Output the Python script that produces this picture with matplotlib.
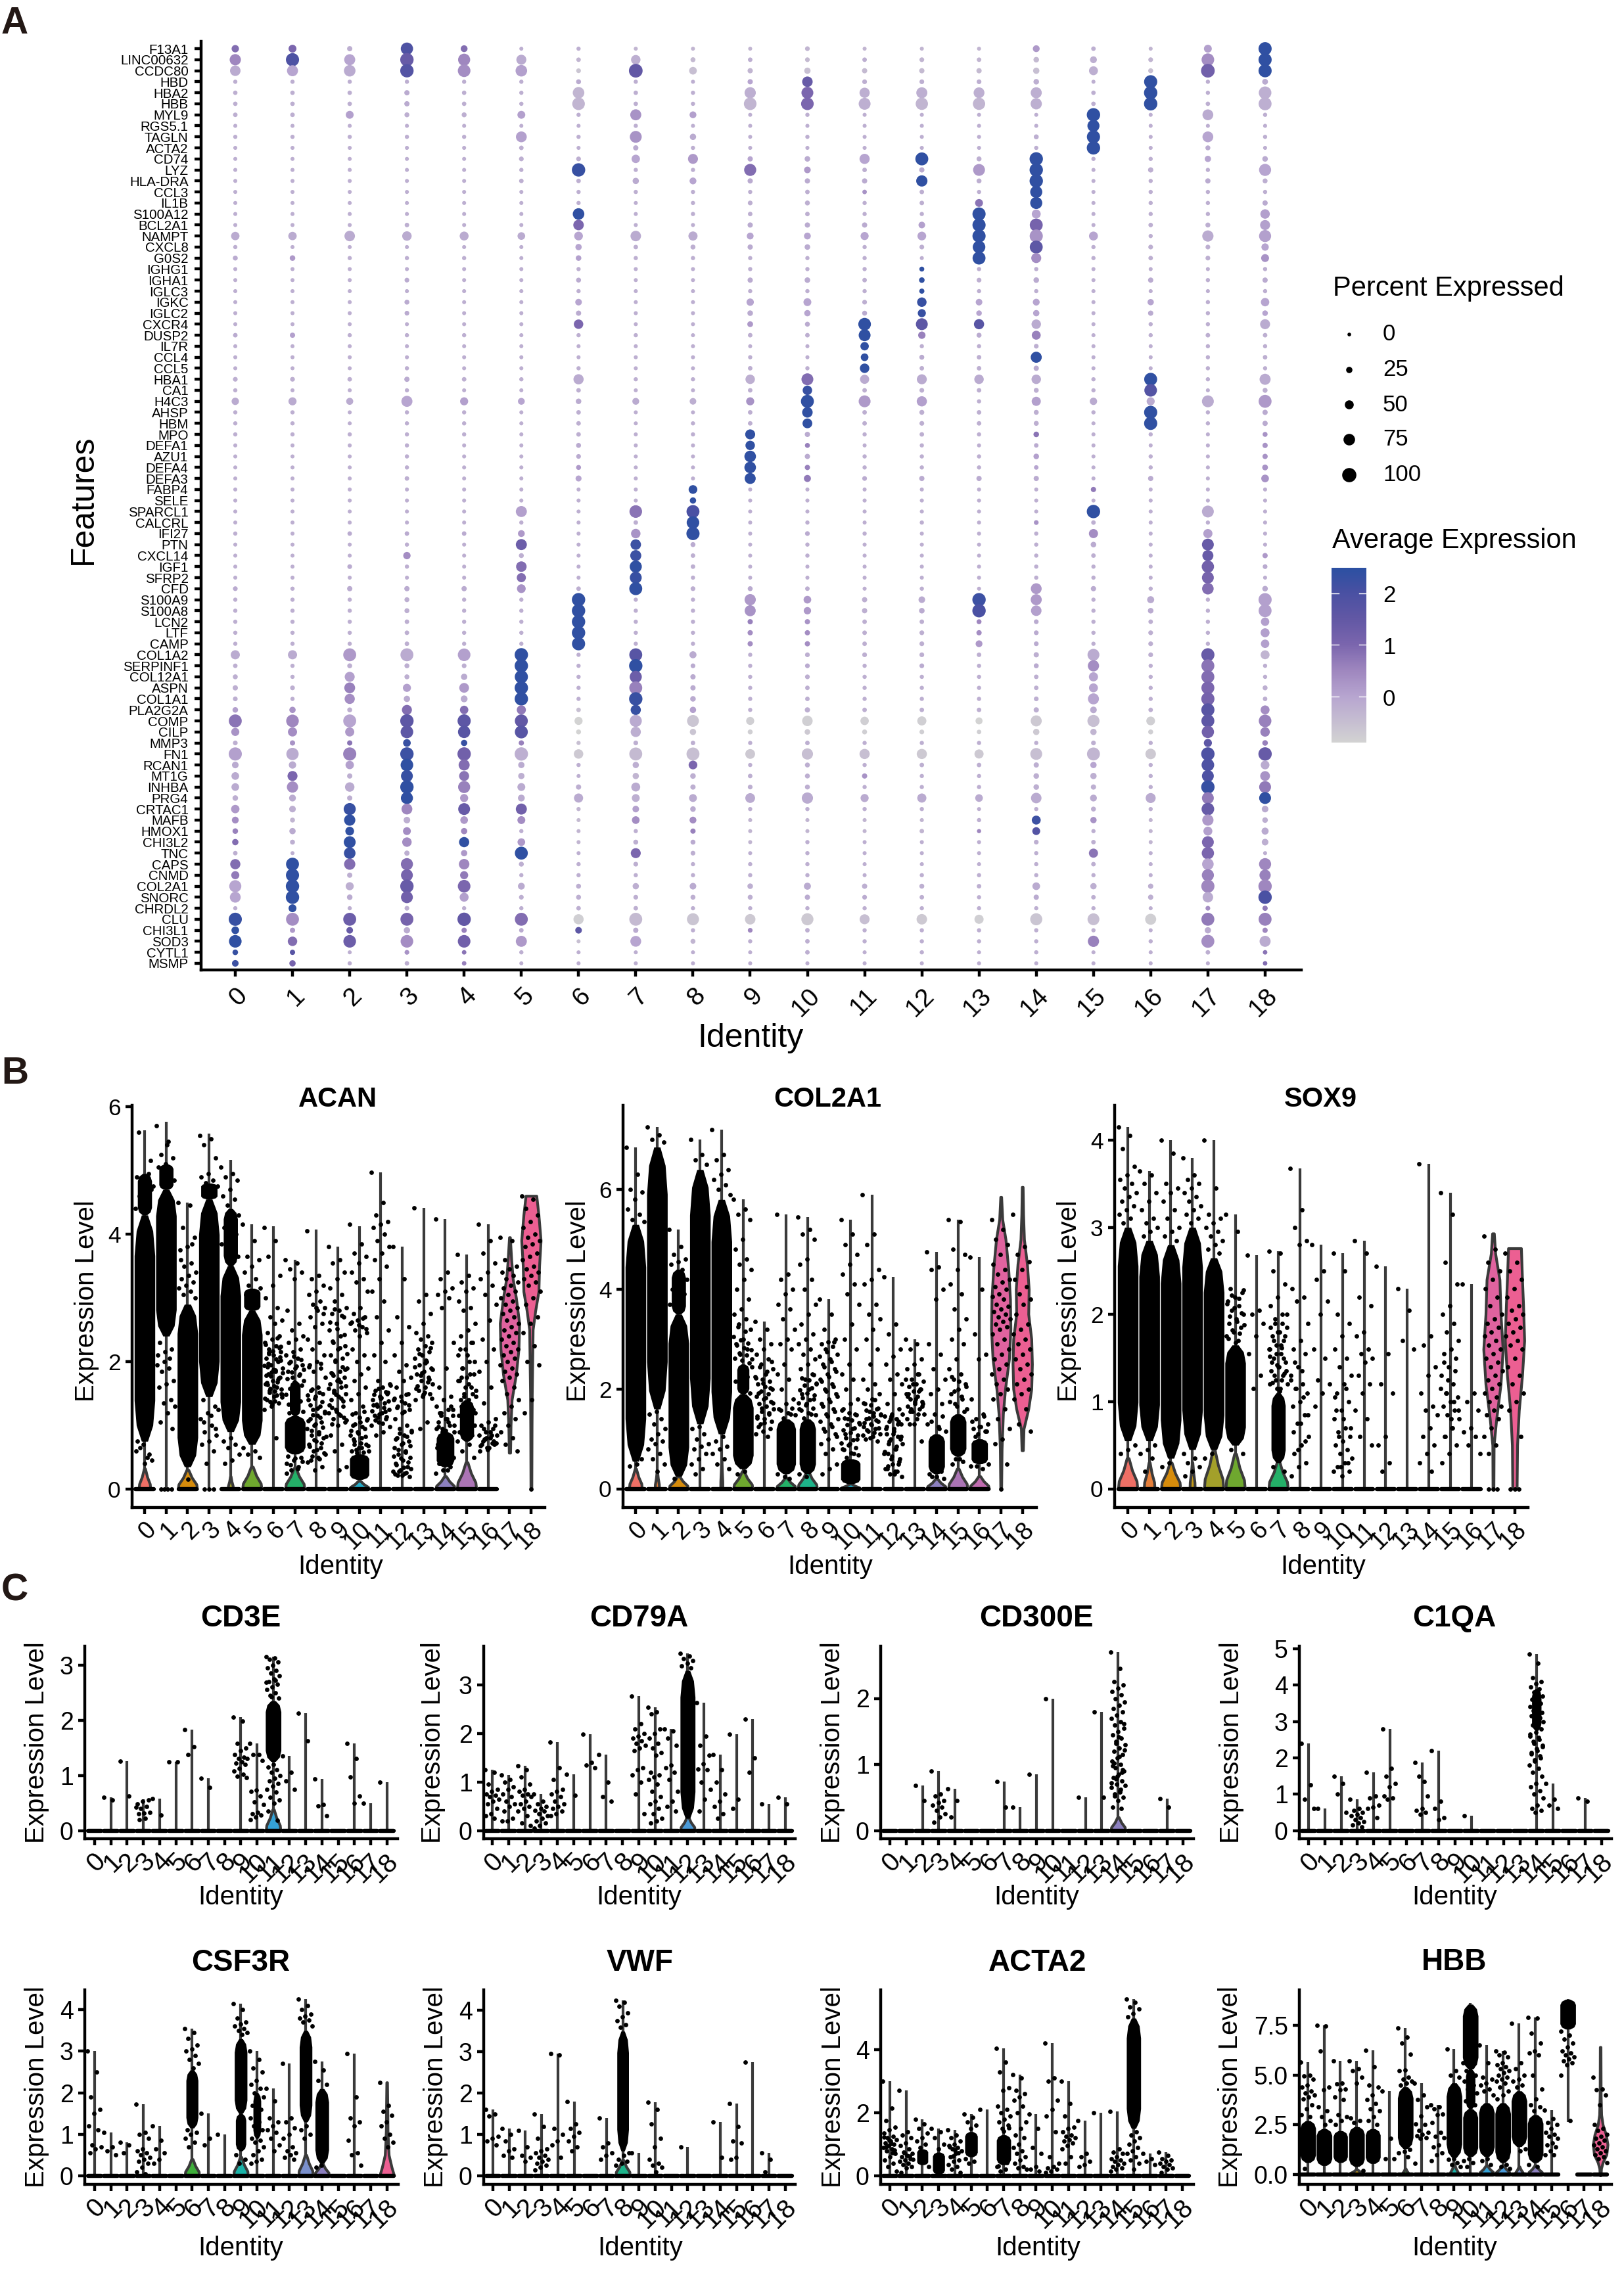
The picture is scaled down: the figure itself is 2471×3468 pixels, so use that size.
import numpy as np
import matplotlib
matplotlib.use('Agg')
import matplotlib.pyplot as plt
from matplotlib.colors import LinearSegmentedColormap
from matplotlib.transforms import ScaledTranslation

plt.rcParams['font.family'] = ['Liberation Sans', 'DejaVu Sans']

W, H = 2471, 3468
clusters = [str(i) for i in range(19)]

# panel A
genes = ['F13A1','LINC00632','CCDC80','HBD','HBA2','HBB','MYL9','RGS5.1','TAGLN','ACTA2','CD74','LYZ','HLA-DRA','CCL3','IL1B',
         'S100A12','BCL2A1','NAMPT','CXCL8','G0S2','IGHG1','IGHA1','IGLC3','IGKC','IGLC2','CXCR4','DUSP2','IL7R','CCL4','CCL5',
         'HBA1','CA1','H4C3','AHSP','HBM','MPO','DEFA1','AZU1','DEFA4','DEFA3','FABP4','SELE','SPARCL1','CALCRL','IFI27','PTN',
         'CXCL14','IGF1','SFRP2','CFD','S100A9','S100A8','LCN2','LTF','CAMP','COL1A2','SERPINF1','COL12A1','ASPN','COL1A1',
         'PLA2G2A','COMP','CILP','MMP3','FN1','RCAN1','MT1G','INHBA','PRG4','CRTAC1','MAFB','HMOX1','CHI3L2','TNC','CAPS','CNMD',
         'COL2A1','SNORC','CHRDL2','CLU','CHI3L1','SOD3','CYTL1','MSMP']

# percent expressed, one row per gene
pct_rows = [
[35,40,15,82,30,3,5,3,3,3,10,3,3,3,30,8,3,40,90],
[72,90,70,92,80,60,8,55,12,8,10,8,10,8,18,30,10,85,90],
[65,70,75,92,85,75,10,95,38,15,25,15,15,15,25,50,12,95,90],
[5,5,5,5,5,5,12,5,3,15,65,10,10,10,18,3,90,5,20],
[7,7,7,15,7,5,75,7,5,72,78,62,70,68,70,7,92,5,85],
[7,7,7,15,7,5,85,7,5,85,85,78,82,82,72,7,92,7,88],
[8,8,40,12,12,40,5,70,30,3,5,3,3,3,3,92,3,68,5],
[3,3,3,3,3,3,3,5,3,3,3,3,3,3,3,80,3,3,3],
[5,5,5,5,5,68,5,78,25,3,5,3,3,3,12,90,3,68,5],
[3,3,3,3,3,8,3,15,5,3,3,3,3,3,5,92,3,12,3],
[3,3,3,3,3,10,10,45,60,15,18,62,88,12,92,5,5,25,18],
[3,3,3,3,3,5,92,5,5,80,28,8,15,78,92,3,15,5,80],
[3,3,3,3,3,8,8,25,30,15,15,15,72,12,92,3,5,15,12],
[3,3,3,3,3,3,5,5,5,5,8,8,8,5,80,3,5,5,5],
[3,3,3,3,3,3,5,3,5,10,12,5,8,40,80,3,5,5,15],
[3,3,3,3,3,3,75,3,5,8,8,5,5,90,50,3,5,5,55],
[3,3,3,8,3,3,65,3,3,15,15,15,28,90,88,3,8,12,60],
[45,45,65,55,50,38,48,65,52,30,30,42,48,90,90,50,5,72,80],
[5,3,3,3,3,3,25,8,12,15,18,5,10,85,88,5,10,10,35],
[12,18,5,5,5,3,18,5,5,5,5,5,3,88,60,5,8,10,40],
[3,3,3,3,3,3,5,3,3,5,5,5,12,5,5,3,3,3,5],
[3,3,3,10,3,3,12,3,3,15,18,8,18,10,18,3,15,5,15],
[3,3,3,3,3,3,5,3,3,5,5,5,14,5,5,3,3,3,5],
[3,3,3,12,3,3,28,3,3,35,40,10,55,28,30,3,25,5,45],
[3,3,3,10,3,3,15,3,3,18,25,12,42,18,25,3,15,5,18],
[3,3,3,3,3,3,55,3,3,20,12,85,78,62,55,3,5,5,60],
[8,15,5,5,5,3,5,5,3,8,8,78,35,12,50,3,5,8,8],
[3,3,3,3,3,3,3,3,3,3,3,45,5,5,10,3,3,5,5],
[3,3,3,3,3,3,3,3,3,5,3,38,12,8,70,3,3,5,8],
[3,3,3,5,3,3,5,3,3,8,5,55,8,8,15,3,3,5,5],
[10,10,8,15,8,5,62,5,5,55,78,52,60,55,55,5,88,5,70],
[5,3,3,5,3,3,8,3,3,8,55,8,10,8,12,5,85,3,12],
[35,42,32,70,42,30,18,30,28,42,88,78,62,5,52,35,42,78,88],
[5,5,3,5,5,3,8,3,3,8,65,8,12,8,12,5,90,5,15],
[5,5,3,5,5,3,8,3,5,8,58,8,10,8,12,3,90,5,15],
[5,5,5,5,5,3,8,3,5,60,15,5,8,5,18,3,5,3,12],
[3,3,3,5,3,3,12,3,3,55,12,3,5,3,8,3,3,3,15],
[3,3,3,5,3,3,10,3,3,75,15,5,5,5,18,3,5,3,15],
[3,3,3,5,3,3,12,3,3,75,15,5,5,5,8,3,5,3,20],
[3,3,3,8,3,3,22,3,3,70,32,10,15,15,15,3,15,3,38],
[3,3,3,3,3,3,3,3,48,3,3,3,3,3,3,15,3,3,3],
[3,3,3,3,3,3,3,3,25,3,3,3,3,3,3,3,3,3,3],
[3,3,3,3,3,70,3,85,88,3,3,3,3,3,3,92,3,78,3],
[3,3,3,3,3,5,3,8,85,3,5,3,5,3,10,8,3,5,3],
[5,3,8,8,8,30,3,55,90,3,10,5,3,3,5,52,3,52,3],
[3,3,3,5,3,70,3,65,12,3,5,3,3,3,5,18,3,78,3],
[3,3,3,35,3,12,3,70,8,3,5,3,3,3,5,8,3,70,15],
[3,3,10,5,3,65,3,80,8,3,3,3,3,3,5,5,3,82,10],
[3,3,3,3,3,52,3,78,5,3,3,3,3,3,5,5,3,78,3],
[10,5,15,15,15,48,8,88,10,12,8,3,5,3,68,15,5,75,18],
[5,5,5,12,5,5,92,5,5,72,38,15,28,92,70,5,32,5,90],
[5,5,5,12,5,5,92,5,5,70,35,15,18,92,65,5,18,5,88],
[5,5,5,8,5,5,92,5,5,15,15,8,8,12,10,5,8,5,45],
[5,5,5,8,5,5,92,5,5,15,15,8,10,15,10,5,10,5,50],
[5,5,5,8,5,5,90,5,5,15,15,8,10,30,10,5,10,5,45],
[52,52,88,88,85,92,5,88,32,5,10,10,10,8,15,78,10,90,50],
[8,5,12,12,10,92,5,92,10,5,10,5,10,5,12,72,5,88,5],
[12,5,60,12,25,90,5,80,15,5,10,5,5,5,8,52,5,88,5],
[15,10,68,42,58,92,5,88,15,5,8,5,5,5,8,50,5,88,12],
[10,5,62,25,30,92,5,92,18,5,8,5,5,5,10,70,5,90,8],
[18,25,12,60,45,52,8,62,25,5,15,8,8,8,15,28,8,90,50],
[88,85,88,92,90,88,42,80,78,42,65,45,52,32,70,80,48,88,85],
[42,52,52,85,82,88,12,62,25,12,18,12,10,8,25,25,12,82,55],
[10,15,15,38,25,15,5,10,8,5,8,5,5,5,5,10,5,42,18],
[90,82,90,92,92,92,55,88,88,58,72,62,62,52,78,88,65,92,92],
[28,35,45,85,70,25,5,25,48,5,12,5,8,8,15,25,5,85,48],
[38,60,15,78,60,25,3,25,18,8,12,15,5,5,18,25,5,78,58],
[38,72,55,92,80,40,15,50,15,10,12,5,5,5,18,15,5,92,78],
[18,30,15,80,42,30,52,40,40,58,72,42,52,38,65,30,60,78,78],
[45,28,80,68,78,70,5,28,18,5,5,5,5,3,5,12,5,85,28],
[30,12,72,28,38,40,3,38,30,3,3,3,3,5,50,25,3,72,18],
[18,25,48,40,25,5,3,5,15,3,3,3,8,5,40,5,3,50,32],
[25,12,78,55,62,38,3,12,12,3,5,3,3,3,10,8,3,78,28],
[8,3,75,15,25,88,3,60,10,3,5,3,3,3,5,52,3,82,3],
[62,88,72,80,65,12,5,10,5,5,5,3,3,3,5,8,3,75,80],
[42,90,15,78,42,5,5,5,5,5,5,3,5,5,5,5,3,80,72],
[80,92,42,92,85,30,12,25,28,18,32,15,12,8,38,25,15,90,92],
[68,92,18,78,50,10,12,10,12,12,15,10,8,5,15,8,15,65,92],
[5,40,5,10,5,5,8,8,5,5,5,5,5,5,5,5,3,10,15],
[90,88,88,88,92,88,62,88,80,65,80,60,65,52,80,78,70,88,88],
[38,15,28,25,15,8,28,15,5,10,8,5,5,5,5,5,3,25,15],
[85,55,85,85,85,70,3,68,12,5,8,5,5,5,5,72,5,88,70],
[18,15,3,10,8,5,3,3,3,3,8,3,5,3,5,3,3,8,8],
[28,25,5,8,8,3,3,3,3,3,3,3,3,3,3,3,3,3,8],
]

# average expression in tenths, same order
avg_rows = [
[9,10,-2,19,9,-2,-2,-3,-3,-3,-3,-3,-3,-3,2,-2,-3,1,24],
[5,19,0,14,5,-1,-3,-2,-4,-2,-4,-2,-3,-3,-4,-2,-3,4,24],
[-1,0,-1,18,4,1,-6,15,-5,-3,-5,-4,-4,-4,-5,-2,-5,12,24],
[-2,-2,-2,-2,-2,-2,-1,-2,-2,0,14,-2,-2,-2,-2,-2,24,-2,-1],
[-2,-2,-2,-1,-2,-2,-3,-2,-2,-2,10,-2,-2,-2,-2,-2,24,-2,-2],
[-2,-2,-2,-1,-2,-2,-3,-2,-2,-3,10,-2,-3,-3,-2,-2,24,-2,-2],
[-2,-2,1,-2,-2,1,-2,3,1,-2,-2,-2,-2,-2,-2,24,-2,-1,-2],
[-2,-2,-2,-2,-2,-2,-2,-2,-2,-2,-2,-2,-2,-2,-2,24,-2,-2,-2],
[-2,-2,-2,-2,-2,1,-2,3,-1,-2,-2,-2,-2,-2,-2,24,-2,0,-2],
[-2,-2,-2,-2,-2,-2,-2,-1,-2,-2,-2,-2,-2,-2,-2,24,-2,-1,-2],
[-2,-2,-2,-2,-2,-2,-2,0,2,0,-1,0,24,-2,24,-2,-2,0,-1],
[-2,-2,-2,-2,-2,-2,23,-2,-2,9,2,-2,-1,2,24,-2,-2,-2,0],
[-2,-2,-2,-2,-2,-2,-2,-1,0,-1,-1,-1,24,-2,24,-2,-2,-1,-2],
[-2,-2,-2,-2,-2,-2,-2,-2,-2,-2,-2,3,-2,-2,24,-2,-2,-2,-2],
[-2,-2,-2,-2,-2,-2,-2,-2,-2,-2,-2,-2,-2,8,24,-2,-2,-2,-1],
[-2,-2,-2,-2,-2,-2,24,-2,-2,-2,-2,-2,-2,24,0,-2,-2,-2,1],
[-2,-2,-2,-2,-2,-2,10,-2,-2,-1,-1,-1,1,24,11,-2,-2,-2,1],
[-1,-1,-1,-1,-1,-1,0,-1,-1,0,0,0,0,24,3,0,-2,-1,1],
[-2,-2,-2,-2,-2,-2,0,-2,-2,-1,-1,-2,-2,24,16,-2,-2,-2,0],
[-1,2,-2,-2,-2,-2,1,-2,-2,-2,-2,-2,-2,24,4,-2,-2,-2,3],
[-2,-2,-2,-2,-2,-2,-2,-2,-2,-2,-2,-2,24,-2,-2,-2,-2,-2,-2],
[-2,-2,-2,-1,-2,-2,-1,-2,-2,-1,-1,-2,24,-2,-1,-2,-1,-2,-1],
[-2,-2,-2,-2,-2,-2,-2,-2,-2,-2,-2,-2,24,-2,-2,-2,-2,-2,-2],
[-2,-2,-2,-1,-2,-2,0,-2,-2,0,0,-2,23,0,0,-2,0,-2,0],
[-2,-2,-2,-1,-2,-2,-1,-2,-2,-1,0,-1,23,0,0,-2,-1,-2,0],
[-2,-2,-2,-2,-2,-2,10,-2,-2,2,-1,24,16,17,-1,-2,-2,-2,-1],
[-1,1,-2,-2,-2,-2,-2,-2,-2,-2,-2,24,6,-1,6,-2,-2,-2,-2],
[-2,-2,-2,-2,-2,-2,-2,-2,-2,-2,-2,24,-2,-2,-2,-2,-2,-2,-2],
[-2,-2,-2,-2,-2,-2,-2,-2,-2,-2,-2,24,-1,-2,24,-2,-2,-2,-2],
[-2,-2,-2,-2,-2,-2,-2,-2,-2,-2,-2,24,-2,-2,-1,-2,-2,-2,-2],
[-2,-2,-2,-1,-2,-2,-1,-2,-2,-2,9,-1,-1,-1,-1,-2,24,-2,-1],
[-2,-2,-2,-2,-2,-2,-2,-2,-2,-2,23,-2,-2,-2,-2,-2,18,-2,-2],
[-1,-1,-1,0,1,0,-1,-1,-2,3,24,2,1,-2,1,-1,-1,-1,2],
[-2,-2,-2,-2,-2,-2,-2,-2,-2,-2,24,-2,-2,-2,-2,-2,24,-2,-1],
[-2,-2,-2,-2,-2,-2,-2,-2,-2,-2,24,-2,-2,-2,-2,-2,24,-2,-1],
[-2,-2,-2,-2,-2,-2,-2,-2,-2,24,-1,-2,-2,-2,8,-2,-2,-2,3],
[-2,-2,-2,-2,-2,-2,-1,-2,-2,24,6,-2,-2,-2,-1,-2,-2,-2,3],
[-2,-2,-2,-2,-2,-2,-1,-2,-2,24,-1,-2,-2,-2,1,-2,-2,-2,3],
[-2,-2,-2,-2,-2,-2,2,-2,-2,24,6,-2,-2,-2,0,-2,-2,-2,3],
[-2,-2,-2,-2,-2,-2,0,-2,-2,24,7,-1,-1,-1,-1,-2,-1,-2,3],
[-2,-2,-2,-2,-2,-2,-2,-2,24,-2,-2,-2,-2,-2,-2,7,-2,-2,-2],
[-2,-2,-2,-2,-2,-2,-2,-2,24,-2,-2,-2,-2,-2,-2,-2,-2,-2,-2],
[-2,-2,-2,-2,-2,1,-2,8,20,-2,-2,-2,-2,-2,-2,24,-2,-1,-2],
[-2,-2,-2,-2,-2,-2,-2,-2,24,-2,-2,-2,-2,-2,3,-2,-2,-2,-2],
[-2,-2,-1,-1,-1,2,-2,3,24,-2,-1,-2,-2,-2,-2,4,-2,1,-2],
[-2,-2,-2,-2,-2,13,-2,22,-1,-2,-2,-2,-2,-2,-2,-1,-2,14,-2],
[-2,-2,-2,4,-2,-2,-2,22,-2,-2,-2,-2,-2,-2,-2,-2,-2,14,2],
[-2,-2,-1,-2,-2,9,-2,24,-2,-2,-2,-2,-2,-2,-2,-2,-2,12,-1],
[-2,-2,-2,-2,-2,9,-2,23,-2,-2,-2,-2,-2,-2,-2,-2,-2,11,-2],
[-1,-2,-1,-1,-1,3,-2,24,-2,-1,-2,-2,-2,-2,2,-1,-2,9,-1],
[-2,-2,-2,-2,-2,-2,24,-2,-2,2,2,-2,-1,22,2,-2,-1,-2,1],
[-2,-2,-2,-2,-2,-2,24,-2,-2,3,2,-2,-1,20,1,-2,-1,-2,1],
[-2,-2,-2,-2,-2,-2,24,-2,-2,6,3,-2,-2,5,-1,-2,-2,-2,1],
[-2,-2,-2,-2,-2,-2,24,-2,-2,4,4,-2,-2,4,-1,-2,-2,-2,1],
[-2,-2,-2,-2,-2,-2,24,-2,-2,4,4,-2,-2,2,-1,-2,-2,-2,1],
[-1,-1,2,-1,1,24,-2,17,-1,-2,-2,-2,-2,-2,-2,-1,-2,14,-3],
[-2,-2,-2,-2,-2,24,-2,24,-1,-2,-1,-2,-1,-2,-1,4,-2,8,-2],
[-2,-2,1,-2,-1,24,-2,13,-1,-2,-2,-2,-2,-2,-2,0,-2,9,-2],
[-2,-2,6,1,2,24,-2,6,-1,-2,-2,-2,-2,-2,-2,0,-2,10,-2],
[-2,-2,4,-1,-1,24,-2,23,-1,-2,-2,-2,-2,-2,-2,0,-2,11,-2],
[1,3,-2,9,9,7,-5,23,1,-2,-2,-2,-2,-2,-2,-1,-2,17,4],
[8,5,0,16,16,15,-9,-1,-6,-8,-8,-8,-8,-9,-7,-5,-8,16,6],
[3,4,2,16,17,17,-9,-2,-6,-8,-7,-8,-8,-8,-7,-3,-8,12,6],
[-2,3,8,23,23,6,-5,-2,-2,-2,-2,-2,-2,-2,-2,-2,-2,16,6],
[1,-1,6,22,12,-2,-7,-4,-5,-7,-5,-5,-7,-7,-5,-3,-7,19,14],
[-1,-1,1,24,9,-1,-2,-2,10,-2,-2,-2,-2,-2,-2,0,-2,19,-1],
[-1,10,-2,23,8,-2,-2,-3,-2,-2,-2,3,-2,-2,-2,-2,-2,19,3],
[-1,4,-1,24,6,-1,-2,-1,-2,-2,-2,-2,-2,-2,-2,-2,-2,23,7],
[-2,-1,-2,24,2,-1,-1,-2,-1,-1,-1,-1,-1,-1,-1,-1,-1,7,24],
[2,-2,23,5,14,12,-3,1,-1,-2,-2,-2,-2,-2,-2,-2,-2,14,-1],
[4,-3,24,-2,2,4,-4,4,4,-3,-3,-3,-3,-2,22,3,-3,2,-2],
[6,-1,24,4,5,-2,-3,-2,6,-3,-3,-3,-3,5,18,-2,-3,1,-1],
[9,-2,24,4,24,2,-3,-2,-1,-3,-2,-2,-2,-2,-2,-2,-3,10,-2],
[-2,-2,23,-2,2,24,-2,10,-2,-2,-2,-2,-2,-2,-2,8,-2,10,-2],
[9,24,9,9,5,-2,-2,-2,-2,-2,-2,-2,-2,-2,-2,-2,-2,0,5],
[7,24,-2,11,7,-2,-2,-2,-2,-2,-2,-2,-2,-2,-2,-2,-2,6,6],
[0,24,-2,14,10,-1,-2,-2,-1,-2,-1,-2,-2,-2,-1,-2,-2,5,5],
[0,24,-1,12,1,-2,-2,-2,-2,-2,-1,-1,-2,-2,-1,-2,-2,-1,20],
[-2,24,-2,-2,-2,-2,-2,-2,-2,-2,-2,-2,-2,-2,-2,-2,-2,4,7],
[23,4,13,11,15,9,-8,-4,-6,-7,-7,-5,-7,-8,-6,-5,-8,7,6],
[24,2,14,-1,6,-1,16,-1,-2,5,-2,-2,-2,-2,-2,-2,-2,-1,5],
[24,9,13,4,12,2,-5,0,-3,-2,-2,-2,-2,-2,-2,6,-2,4,-1],
[23,17,-2,3,8,-2,-2,-2,-2,-2,-2,-2,-2,-2,-2,-2,-2,-2,8],
[22,11,-2,-2,6,-2,-2,-2,-2,-2,-2,-2,-2,-2,-2,-2,-2,-2,9],
]

pct_levels = [0, 25, 50, 75, 100]
avg_ticks = [0, 1, 2]

cmap_vals = [-0.89, 0.0, 0.5, 1.0, 1.5, 2.0, 2.49]
cmap_cols = ['#D3D3D3', '#B7A5D0', '#9F87BF', '#7B66AE', '#6258A5', '#4A51A3', '#2B50A2']

violin_cols = ['#EE6F65','#E57F3A','#D68C0C','#C39A1A','#A3A02A','#6FA82F','#3FAE3B','#24B068','#1EB38A','#1BB3A8',
               '#25ACC8','#35A2D6','#4A9AD8','#7A90CC','#8C80BF','#AB74B5','#C06CB0','#E0639F','#EC5F92']

# ACAN
acan_top = [5.63,5.76,4.5,5.58,5.16,4.15,4.12,3.6,4.07,3.8,4.12,4.97,3.8,4.41,4.24,3.68,4.15,0,0]
acan_foot = [.32,0,.3,0,.2,.35,0,.33,0,0,.13,0,0,0,.2,.42,0,0,0]
acan_footw = [.27,.45,.45,.45,.12,.45,.45,.45,.45,.45,.45,.45,.45,.45,.45,.45,.45,.45,.45]
acan_nozero = [1,3,17,18]
acan_bands = [[(.75,4.3,.45),(4.3,4.95,.3)],[(2.4,4.7,.47),(4.7,5.1,.3)],[(.35,2.9,.45)],[(1.45,4.55,.45),(4.55,4.8,.35)],
              [(.9,3.5,.47),(3.5,4.4,.3)],[(.7,2.8,.47),(2.8,3.15,.35)],[],[(.55,1.15,.45),(1.15,1.7,.22)],[],[],
              [(.15,.55,.42)],[],[],[],[(.35,.9,.38)],[(.75,1.4,.3)],[],[],[]]
acan_shapes = {17: ([.57,1.0,1.4,1.8,2.2,2.6,3.0,3.3,3.6,3.95], [.03,.05,.1,.3,.42,.45,.3,.15,.08,.02]),
               18: ([0,1.0,1.5,2.0,2.5,2.8,3.1,3.5,3.9,4.3,4.6], [.02,.03,.04,.06,.08,.2,.35,.38,.45,.35,.25])}
acan_pts = [
[4.4,4.5,4.6,4.7,4.8,4.9,4.95,4.85,4.75,4.65,5.6,5.15,.7,.6,.5,.65,.45,.4,.75,.55],
[5.7,5.45,5.25,5.2,5.1,5.05,5.0,4.95,4.85,5.4,2.3,2.2,2.0,1.95,1.9,1.85,1.7,1.65,1.6,1.4,1.35,1.3,1.2,1.05,.95,2.15,2.1,2.05,0,0,0,0],
[4.5,4.45,4.1,3.95,3.8,3.75,3.55,3.5,3.4,3.35,3.3,3.25,3.2,3.15,3.1,3.05,3.0,.15,3.6,3.85],
[5.55,5.5,5.4,5.2,4.95,4.9,4.85,4.8,4.75,4.7,1.4,1.3,1.2,1.1,1.0,.9,.85,.75,.7,.6,.4,1.25,1.15,1.05,.95,0,0,0],
[5.05,4.95,4.9,4.85,4.7,4.6,4.55,4.45,4.3,4.2,4.1,4.0,3.9,3.85,3.8,3.7,3.65,.8,.75,.7,.65,.55,.45,.4],
[4.15,3.9,3.65,3.6,3.5,3.4,3.3,3.2,3.15,3.1,3.05,3.0,2.95,.65,.6,.55,.5],
[4.1,3.9,3.65,3.35,3.2,3.0,2.85,2.7,2.65,2.6,2.45,2.4,2.35,2.3,2.25,2.2,2.15,2.1,2.05,2.0,1.95,1.9,1.85,1.8,1.75,1.7,1.65,1.6,1.55,1.5,1.45,1.4,1.35,1.3,1.25,.8,2.12,2.02,1.88,1.78,1.68,1.58,1.48,1.38,1.92,2.22,1.33,1.42,1.47,1.52,1.57,1.62,1.67,1.72,1.77,1.82,1.87,1.97,2.07,2.17,2.27,2.37,1.37,1.44,1.54,1.64,1.74,1.84,1.94,2.04,2.14,2.24],
[3.6,3.55,3.45,3.4,3.3,2.8,2.6,2.5,2.4,2.35,2.3,2.2,2.15,2.1,2.05,2.0,1.95,1.9,1.85,1.8,1.75,1.7,1.65,1.2,.5,.45,.4,.35,.3,1.22,1.28,1.33,1.38,1.43,1.48,1.53,1.58,1.63,1.68,1.73,1.78,1.83,1.88,1.93,1.98,2.03,2.08,.25,.32,.38,.43,.48,.52],
[4.05,3.35,3.3,3.2,3.1,3.05,2.95,2.9,2.85,2.8,2.7,2.6,2.55,2.35,2.3,2.2,2.1,2.0,1.95,1.9,1.85,1.75,1.6,1.55,1.5,1.45,1.4,1.3,1.25,1.2,1.15,1.1,1.05,1.0,.95,.9,.85,.8,.75,.7,.65,.6,.55,.5,.45,.35,.3,.42,.47,.52,.57,.62,.67,.72,.77,.82,.87,.92,.97,1.02,1.07,1.12,1.17,1.22,1.27,1.32,1.37,1.42,1.47,1.52,1.57,2.75,2.85,1.92,1.97],
[3.8,3.6,3.55,3.4,3.3,3.15,3.05,2.95,2.85,2.8,2.75,2.7,2.6,2.5,2.4,2.3,2.25,2.2,2.1,2.05,2.0,1.9,1.85,1.8,1.75,1.7,1.65,1.6,1.55,1.5,1.45,1.4,1.3,1.25,1.2,1.15,1.1,1.05,1.0,.85,.7,.6,.35,.3,1.02,1.12,1.22,1.32,1.42,1.52,1.62,1.72,1.82,1.92,2.02,2.12,2.22,2.32,2.42,2.52,2.62,2.72,2.82,1.08,1.18,1.28,1.38,1.48,1.58,1.68,1.78,1.88],
[4.15,3.85,3.7,3.65,3.55,3.4,3.3,3.25,3.1,2.85,2.75,2.7,2.65,2.6,2.55,2.5,2.45,2.4,2.2,2.1,2.0,1.9,1.8,1.7,1.6,1.5,1.4,1.3,1.2,1.1,1.05,1.0,.95,.9,.85,.8,.75,.7,.65,.6,.58,.62,.68,.72,.78,.82,.88,.92,.98,1.02,1.08,1.12,1.18,1.22,.57,.6,.65,.7,2.52,2.58,2.62,2.68],
[4.97,4.5,4.3,4.2,4.15,4.1,4.0,3.9,3.8,3.7,3.6,3.5,3.3,3.1,2.95,2.7,2.5,2.3,2.1,2.0,1.7,1.65,1.6,1.55,1.5,1.45,1.4,1.35,1.3,1.25,1.2,1.15,1.1,1.05,1.0,.9,.85,1.52,1.42,1.32,1.22,1.12,.98,1.03,1.08,1.13,1.18,1.23,1.28,1.33,1.38,1.43,1.48,1.53,1.58,1.63],
[3.8,3.3,2.7,2.55,2.3,2.1,1.95,1.85,1.75,1.7,1.6,1.5,1.45,1.4,1.35,1.3,1.25,1.2,1.1,1.0,.95,.9,.85,.8,.75,.7,.65,.6,.55,.5,.45,.4,.35,.3,.28,.25,.22,.2,.22,.24,.26,.28,.32,.34,.38,.42,.48,.52,.58,.62,.68,.72,.78,.82,.88,.92,1.22,1.28,1.32,1.38,1.42,1.48],
[4.41,3.05,2.95,2.75,2.6,2.45,2.4,2.35,2.3,2.25,2.2,2.15,2.1,2.05,2.0,1.95,1.9,1.85,1.8,1.75,1.7,1.65,1.6,1.55,1.5,1.45,1.4,1.05,.95,1.42,1.52,1.62,1.72,1.82,1.92,2.02,2.12,2.22,1.48,1.58,1.68,1.78,1.88,1.98],
[4.24,3.4,3.3,3.15,3.1,3.05,3.0,2.85,2.3,1.9,1.6,1.45,1.4,1.3,1.25,1.2,1.15,1.1,1.05,1.0,.95,.9,.85,.8,.75,.7,.65,.6,.55,.5,.45,.4,.35,.3,.25,.3,.4,.5,.6,.7,.8,.9,1.0,1.1,1.2,1.3,1.4,.95,1.05,1.15,1.25,.92,.98],
[3.68,3.35,3.25,3.15,3.1,2.95,2.85,2.8,2.6,2.5,2.4,2.3,2.2,2.1,2.0,1.9,1.8,1.75,1.7,1.6,1.5,1.45,1.4,1.3,1.25,1.2,1.15,1.1,1.05,1.0,.95,.9,.85,.8,.75,.7,.6,.5,.8,.9,1.0,1.1,1.2,1.3,1.4,1.5,1.6,1.7,1.8,1.9,2.0,2.1,2.2,2.3,1.45,1.55,1.65,1.75],
[4.15,3.9,3.7,3.55,3.4,3.3,3.2,3.05,2.9,2.65,2.35,2.2,2.0,1.85,1.6,1.35,1.1,1.05,1.0,.95,.9,.85,.8,.75,.7,.65,.6,.85,.78,.72,.65,.7,.75,.8,.85,.9,.95,1.0,.62,.68,.72,.78],
[3.95,3.9,3.6,3.5,3.45,3.4,3.35,3.3,3.25,3.2,3.15,3.1,3.05,3.0,2.95,2.9,2.85,2.8,2.75,2.7,2.65,2.6,2.55,2.5,2.45,2.4,2.35,2.3,2.25,2.2,2.15,2.1,2.05,2.0,1.95,1.9,1.85,1.8,1.75,1.7,1.6,1.5,1.4,1.3,1.2,1.1,1.0,.9,.8,.7,.6],
[4.6,4.55,4.4,4.3,4.2,4.1,4.0,3.95,3.9,3.85,3.8,3.7,3.65,3.6,3.5,3.45,3.4,3.35,3.3,3.25,3.2,3.1,3.0,2.9,2.7,2.6,2.45,2.25,2.0,1.95,1.4,1.2,0],
]

# COL2A1
col2a1_top = [6.85,7.25,5.2,7.0,7.2,5.8,3.35,5.5,5.45,3.8,5.4,5.9,4.25,3.0,4.75,5.4,4.65,0,0]
col2a1_foot = [.4,.35,.25,0,.6,.35,0,.22,.35,0,.1,0,0,0,.2,.4,.25,0,0]
col2a1_footw = [.3,.1,.45,.45,.05,.45,.45,.45,.45,.45,.45,.45,.45,.45,.45,.45,.45,.45,.45]
col2a1_nozero = [17,18]
col2a1_bands = [[(.55,5.3,.45)],[(1.6,6.85,.47)],[(.25,3.5,.45),(3.5,4.4,.3)],[(1.3,6.4,.45)],[(1.1,5.8,.47)],
                [(.4,1.9,.45),(1.9,2.5,.25)],[],[(.3,1.4,.42)],[(.3,1.4,.35)],[],[(.1,.6,.42)],[],[],[],
                [(.3,1.1,.35)],[(.65,1.5,.35)],[(.5,1.0,.35)],[],[]]
col2a1_shapes = {17: ([0,.8,1.5,2,2.6,3.2,3.8,4.4,5,5.4,5.85], [.02,.04,.1,.2,.38,.45,.43,.35,.22,.07,.02]),
                 18: ([.77,1.2,1.6,2,2.5,3,3.5,4,4.5,5,5.5,6.05], [.03,.06,.28,.42,.45,.42,.28,.3,.22,.08,.04,.02])}
col2a1_pts = [
[6.85,6.3,6.0,5.95,5.8,5.6,5.5,5.4,5.35,.5,.45,.6],
[7.25,7.1,7.0,6.95,1.55,1.5,1.4,1.3,1.2,1.1,1.0,.95,.9,.8,.7,.6,.5,.35],
[5.2,4.85,4.7,4.6,4.55,4.5,4.4,4.3,4.2,4.1,4.0,3.9,3.8,3.7,3.6,.2],
[7.0,6.7,6.6,6.5,1.25,1.2,1.1,1.0,.9,.85,.8,.7,.6,.5,.4,.3],
[7.2,6.7,6.6,6.4,6.3,6.2,6.1,6.0,5.9,1.05,.95,.85,.8,.7,.6,.5,.4],
[5.8,5.6,5.5,5.4,5.0,4.8,4.6,4.5,4.4,4.2,4.0,3.8,3.6,3.5,3.4,3.3,3.2,3.0,2.9,2.8,2.7,2.6,.35,.3,2.52,2.58,2.62,2.68,2.72,2.78,2.82,2.88,2.92,2.98,3.05,3.15,3.25,1.92,2.05,2.15,2.25,2.35,2.45],
[3.35,3.2,3.0,2.9,2.8,2.7,2.6,2.5,2.4,2.3,1.25,1.2,1.15,1.1,1.05,1.3,1.35,1.4,1.45,1.5,1.55,1.6,1.65,1.7,1.75,1.8,1.85,1.9,1.95,2.0,2.05,2.1,2.15,2.2,2.25,2.35,2.45,2.55,1.32,1.42,1.52,1.62,1.72,1.82,1.92,2.02,2.12,2.22],
[5.5,4.3,4.2,4.0,3.9,3.7,3.6,3.4,3.2,3.0,2.9,2.8,2.5,2.3,2.2,2.0,1.8,1.7,1.6,1.5,1.42,1.48,1.52,1.58,1.62,.25,.3,.2],
[5.45,5.2,5.1,5.0,4.6,4.5,4.2,4.0,3.7,3.5,3.3,3.1,3.0,2.9,2.8,2.7,2.6,2.5,2.4,2.3,2.2,2.1,2.0,1.9,1.8,1.7,1.6,1.5,1.42,1.48,1.52,1.58,1.62,1.68,1.72,1.78,1.82,1.88,1.92,1.98,2.02,2.08,2.12,2.18,2.22,2.28,.25,.3],
[3.8,3.5,3.2,3.0,2.95,2.9,2.85,2.8,2.7,2.6,2.5,2.4,2.3,2.2,2.1,2.0,1.9,1.8,1.7,1.6,1.5,1.4,1.3,1.2,1.1,1.0,.9,.8,.7,.5,.4,.3,2.95,2.75,2.65,2.55,2.45,2.35,2.25,2.15,2.05,1.95,1.85,1.75,1.65,1.55,1.45,1.35,1.25,1.15,1.05],
[5.4,5.1,4.9,4.7,4.5,4.3,4.1,3.9,3.7,3.3,3.0,2.8,2.5,2.3,2.2,2.0,1.8,1.7,1.6,1.5,1.4,1.3,1.2,1.1,1.0,.9,.8,.7,.62,.68,.72,.78,.82,.88,.92,.98,1.02,1.08,1.12,1.18,1.22,1.28,1.32,1.38,1.42,1.48,1.52,1.58],
[5.9,5.1,4.9,4.4,4.2,4.1,3.7,3.5,3.4,3.2,3.0,2.8,2.5,2.2,2.1,2.0,1.9,1.8,1.7,1.6,1.55,1.5,1.45,1.4,1.35,1.3,1.25,1.2,1.15,1.1,1.05,1.0,.95,1.02,1.08,1.12,1.18,1.22,1.28,1.32,1.38,1.42,1.48,1.52,1.58,1.62,1.68,1.72,1.78],
[4.25,3.3,3.1,2.8,2.65,2.5,2.3,2.2,2.1,1.9,1.7,1.6,1.5,1.45,1.4,1.35,1.3,1.2,1.1,1.05,1.0,.9,.8,.7,.6,.5,.4,.35,.3,.25,.3,.4,.5,.6,.7,.8,.9,1.0,1.1,1.2,1.3,1.4,1.5,.35,.45,.55,.65,.75,.85,.95,1.05,1.15,1.25,1.35,1.45],
[3.0,2.9,2.8,2.6,2.5,2.4,2.3,2.2,2.15,2.1,2.05,2.0,1.95,1.9,1.85,1.8,1.75,1.7,1.65,1.6,1.55,1.5,1.4,1.3,.95,1.3,1.4,1.5,1.6,1.7,1.8,1.9,2.0,2.1,2.2,2.3,1.55,1.65,1.75,1.85,1.95],
[4.75,4.45,4.4,4.0,3.8,2.9,2.7,2.4,2.2,2.0,1.9,1.7,1.5,1.3,1.2,.25,.2,.25,.3,.35,.4,1.15,1.25,1.35,1.45],
[5.4,5.35,4.8,4.7,4.4,4.1,3.9,3.6,3.4,3.2,3.0,2.9,2.6,2.4,2.3,2.2,2.1,2.0,1.9,1.8,1.7,1.6,.6,.5,1.55,1.65,1.75,1.85,1.95,2.05,2.15,2.25,.55,.6],
[4.65,4.0,3.1,2.7,2.6,1.8,1.5,1.4,1.3,1.25,1.2,1.15,1.1,.45,.4,1.05,1.15,1.25,1.35,1.45,.45,.5,.55],
[5.4,5.2,5.0,4.9,4.7,4.5,4.4,4.3,4.2,4.15,4.05,4.0,3.9,3.85,3.8,3.7,3.65,3.6,3.55,3.5,3.45,3.4,3.35,3.3,3.25,3.2,3.1,3.0,2.9,2.8,2.7,2.6,2.5,2.4,2.3,2.2,2.1,2.0,1.9,1.8,1.6,1.4,1.2,1.0,.9,.5,0],
[5.5,4.85,4.7,4.55,4.4,4.2,4.05,3.9,3.8,3.7,3.5,3.3,3.2,3.1,3.0,2.9,2.8,2.7,2.6,2.5,2.4,2.3,2.2,2.1,2.0,1.9,1.8,1.6,1.3,1.15],
]

# SOX9
sox9_top = [4.15,3.65,4.0,3.8,4.0,3.15,2.68,2.73,3.68,2.8,2.7,2.85,2.55,2.3,3.73,3.4,2.35,0,0]
sox9_foot = [.35,.3,.3,.3,.45,.4,0,.32,0,0,0,0,0,0,0,0,0,0,0]
sox9_footw = [.45,.25,.45,.12,.45,.45,.45,.45,.45,.45,.45,.45,.45,.45,.45,.45,.45,.45,.45]
sox9_nozero = [17,18]
sox9_bands = [[(.55,3.0,.47)],[(.55,2.85,.45)],[(.35,2.8,.45)],[(.45,3.0,.47)],[(.45,2.65,.45)],[(.5,1.65,.45)],[],
              [(.3,1.1,.3)],[],[],[],[],[],[],[],[],[],[],[]]
sox9_shapes = {17: ([0,.5,.8,1.2,1.6,2,2.4,2.7,2.93], [.02,.03,.15,.35,.45,.35,.3,.1,.04]),
               18: ([0,.5,.9,1.3,1.7,2.1,2.4,2.76], [.1,.12,.2,.35,.45,.4,.35,.3])}
sox9_pts = [
[4.15,4.05,3.9,3.7,3.6,3.55,3.5,3.45,3.4,3.35,3.3,3.25,3.2,3.15,3.1,3.05,.5,.45,.4],
[3.65,3.6,3.5,3.4,3.3,3.2,3.1,3.05,3.0,2.95,2.9,.5,.45,.4,.35,.2],
[4.0,3.85,3.5,3.45,3.4,3.3,3.2,3.1,3.0,2.95,2.9,2.85,.3,.25],
[3.8,3.6,3.55,3.5,3.45,3.4,3.35,3.3,3.25,3.2,3.15,3.1,3.05,.4,.35,.3,.25,.2,.15],
[4.0,3.45,3.15,3.1,3.05,3.0,2.95,2.9,2.85,2.8,2.75,2.7,.4,.35],
[3.15,2.95,2.3,2.25,2.2,2.15,2.1,2.05,2.0,1.95,1.9,1.85,1.8,1.75,1.7,.45,.4,1.68,1.72,1.78,1.82,1.88,1.92,1.98,2.02,2.08,2.12,2.18,2.22,2.28],
[2.68,2.05,2.0,1.9,1.75,1.55,1.3,1.15],
[2.73,2.7,2.5,2.35,2.2,2.1,2.0,1.9,1.85,1.8,1.75,1.7,1.65,1.6,1.55,1.5,1.45,1.4,1.35,1.3,1.25,1.2,1.15,.25,.2,1.15,1.2,1.25,1.3,1.35,1.4,1.45,1.5,1.55,1.6,1.65,1.7,1.75,1.8,1.85,1.9,1.95,2.0,1.12,1.22,1.32,1.42,1.52,1.62],
[3.68,3.2,3.0,2.85,2.8,2.3,2.2,2.15,1.9,1.7,1.6,1.55,1.4,1.3,1.2,1.15,1.1,1.0,.95,.85,.75,.6,.5,.4,.3,.25,.15,1.05,1.15,.85,.75,.65,.55,.45,1.25,1.35,1.45],
[2.8,2.5,2.4,2.15,2.0,1.6,1.5,1.25,1.2,1.1,.95],
[2.7,2.5,2.0,1.9,1.75,1.6,1.5,1.4,1.3,1.2,1.1,1.0,.9,.8,.7,.65,.6,.55,.5,.45,.4,.35,.3,.25,.2,.15,1.05,1.15,.6,.7,.8,.9,.3,.25,.2],
[2.85,2.7,2.2,2.1,1.8,1.75,1.6,1.55,1.5,1.45,1.3,1.2,1.1,.9,.8,.6,.5],
[2.55,1.55,1.2,1.1,.6,.5,.3,.2],
[2.3,2.05,1.7,1.6],
[3.73,1.75,1.65,1.4,1.3,1.1,.95,.9,.85,.7,.6,.5,.4,.3,.2],
[3.4,3.15,2.6,2.35,2.1,2.0,1.9,1.8,1.7,1.6,1.55,1.5,1.4,1.3,1.2,1.1,1.05,1.0,.95,.9,.85,.8,.7,.6,.5,.4,.3,1.0,1.1,.9,.8,1.45,1.35,1.25,1.15,.7,.6],
[2.35,1.1,1.0,.9,.7,.65,.6,.5,.4],
[2.9,2.75,2.6,2.5,2.4,2.3,2.2,2.1,2.0,1.95,1.9,1.85,1.8,1.75,1.7,1.65,1.6,1.55,1.5,1.45,1.4,1.35,1.3,1.25,1.2,1.15,1.1,1.05,1.0,.95,.9,.85,.8,.7,.6,.5,.4,0,0,0],
[2.7,2.6,2.5,2.4,2.3,2.2,2.1,2.05,2.0,1.95,1.9,1.85,1.8,1.75,1.7,1.65,1.6,1.5,1.4,1.3,1.2,1.1,1.0,.9,.6,0,0,0],
]

# CD3E
cd3e_top = [0,.6,1.26,.57,.58,1.25,1.83,.95,0,2.05,1.58,3.15,1.35,2.12,.93,0,1.58,.5,.88]
cd3e_foot = [0,0,0,0,0,0,0,0,0,0,0,.38,0,0,0,0,0,0,0]
cd3e_bands = [[],[],[],[],[],[],[],[],[],[],[],[(1.25,2.35,.45)],[],[],[],[],[],[],[]]
cd3e_pts = [[],[.6,.55],[1.26,.63],[.42,.22,.2,.55,.53,.48,.44,.4,.33,.31,.3],[.58,.28],[1.25,1.24],[1.83,1.52,1.38],[.95,.78],[],
[2.05,1.98,1.58,1.5,1.45,1.37,1.33,1.3,1.3,1.25,1.22,1.2,1.12,1.08,1.02,.98,.96],[1.58,1.37,1.37,1.27,.73,.71,.63,.52,.47,.33,.3,.28,.25,.2],
[3.15,3.12,3.1,3.05,3.0,2.95,2.9,2.85,2.8,2.75,2.7,2.65,2.6,2.55,2.5,2.45,2.4,1.2,1.15,1.1,1.05,1.0,.95,.9,.85,.8,.75,.7,.6,.55,.5,.35,.18,2.42,2.68,2.72],
[1.35,1.05,.9,.74],[2.12,1.62],[.93,.47,.45,.27],[],[1.58,1.3,.97,.63,.5],[.5],[.88]]

# CD79A
cd79a_top = [1.25,1.14,1.33,.75,1.82,1.16,1.98,1.57,0,2.77,2.54,2.1,3.65,2.63,1.57,1.98,2.3,.55,.69]
cd79a_foot = [0,0,0,0,0,0,0,0,0,0,0,0,.28,0,0,0,0,0,0]
cd79a_bands = [[],[],[],[],[],[],[],[],[],[],[],[],[(.25,3.3,.42)],[],[],[],[],[],[]]
cd79a_pts = [[1.25,1.2,.95,.85,.8,.75,.72,.7,.65,.6,.55,.45,.35,.3,.25],[1.14,1.05,1.0,.9,.85,.75,.7,.6,.55,.5,.4,.25,.2,.2],
[1.33,1.25,1.1,.95,.85,.8,.75,.72,.7,.6,.55,.5,.45,.4,.3,.15,.1],[.75,.6,.55,.5,.45,.42,.4,.35,.3,.25,.2,.15,.1,.05],
[1.82,1.3,1.05,.85,.8,.75,.7,.6,.55,.5,.45,.4,.35,.3],[1.16,.72],[1.98,1.4,1.35,1.3],[1.57,1.0,.7,.6],[],
[2.77,2.2,2.1,2.0,1.95,1.9,1.85,1.8,1.75,1.7,1.65,1.3,1.25,1.15,1.0,.75,.35],
[2.54,2.45,2.4,2.1,2.0,1.9,1.8,1.7,1.6,1.55,1.2,1.15,1.1,1.05,.95,.8,.7,.6,.55,.45,.35,.25,.2,.15],
[2.1,2.05,1.9,1.75,1.35,1.3,1.2,1.05,.8,.6,.5,.4],[3.65,3.6,3.55,3.5,3.45,3.4,3.35],[2.63,1.95,1.75,1.55,1.38,1.27,1.25,1.0,.85,.65,.4],
[1.57,1.25,1.0,.75,.6,.5,.35,.25],[1.98,.65,.45],[2.3,1.5,1.2],[.55],[.69,.55]]

# CD300E
cd300e_top = [0,0,.68,.9,.63,0,0,.74,.35,.85,2.0,0,.5,1.8,2.7,0,0,.48,0]
cd300e_foot = [0,0,0,0,0,0,0,0,0,0,0,0,0,0,.2,0,0,0,0]
cd300e_bands = [[] for c in clusters]
cd300e_pts = [[],[],[.68,.45],[.9,.55,.52,.45,.42,.38,.35,.3,.25,.2,.12],[.63,.45,.2],[],[],[.74,.35],[.35],[.85],[2.0],[],[.5],[1.8,.5],
[2.7,2.45,2.25,2.2,2.15,2.1,2.05,2.0,1.95,1.9,1.85,1.8,1.75,1.7,1.65,1.6,1.55,1.5,1.45,1.4,1.35,1.3,1.25,1.2,1.15,1.1,1.05,1.0,.95,.9,.85,.8,.75,.7,.65,.6,.55,.5,.45,.35,.33,1.32,1.22,1.12,1.02,.92,.82,.72,.62,.52,1.62,1.42,.98,.88,.78,.68,.58],
[],[],[.48,.35],[]]

# C1QA
c1qa_top = [2.4,.6,1.5,.85,1.6,2.8,0,1.87,2.2,0,.4,0,0,0,4.85,1.3,0,.9,0]
c1qa_foot = [0]*19
c1qa_bands = [[],[],[],[],[],[],[],[],[],[],[],[],[],[],[(2.75,3.9,.25)],[],[],[],[]]
c1qa_pts = [[2.4,1.25,.85,.6],[.6],[1.5,1.3,1.0,.5],[.85,.6,.55,.5,.45,.4,.35,.3,.25,.2,.15,.1],[1.6,.95,.9,.7,.65,.6,.35],[2.8,1.7,1.5,1.3,1.2,.95,.9,.85],[],
[1.87,1.35,1.5,.95,.6,.55,.5,.45],[2.2,.8,.6,.35,.3],[],[.4],[],[],[],
[4.85,4.6,4.2,4.1,4.05,3.95,3.9,3.8,3.7,3.65,3.6,3.5,3.45,3.4,3.35,3.3,3.25,3.2,3.15,3.1,3.05,3.0,2.95,2.9,2.8,2.7,2.6,2.5,2.4,2.3,2.2,2.1,2.0,1.9,1.8,1.7,1.6,1.5,1.3,1.2,1.1,1.0,.9,.7,.6,.55,.5,2.65,2.55,2.45,2.35,2.25,2.15,2.05,1.95],
[1.3,.85,.7,.6],[],[.9,.8],[]]

# CSF3R
csf3r_top = [3.0,1.05,.8,1.72,1.2,0,3.55,1.5,1.0,4.15,3.0,2.1,2.7,4.25,2.75,0,2.95,0,0]
csf3r_foot = [0,0,0,0,0,0,.4,0,0,.45,0,0,0,.5,.3,0,0,0,0]
csf3r_bands = [[],[],[],[],[],[],[(1.15,2.55,.33)],[],[],[(1.5,3.3,.35),(.6,1.5,.28)],[(.9,2.0,.2)],[],[],[(1.3,3.5,.35)],[(.3,2.1,.38)],[],[],[],[]]
csf3r_shapes = {18: ([0,.2,.5,.8,1.1,1.6,2.25], [.45,.3,.12,.08,.05,.04,.02])}
csf3r_pts = [[3.0,2.5,1.9,1.6,1.5,1.2,1.1,.75,.7,.65,.55],[1.05,.7,.6,.5],[.8,.75,.55],[1.72,1.05,1.0,.9,.65,.6,.55,.5,.45,.4,.35,.3,.2,.1,.05],
[1.2,.85,.65,.55,.4,.3],[],[3.55,3.45,3.3,3.15,3.05,3.0,2.9,2.8,2.7,2.6,1.1,1.05,1.0,.9,.8,.7],[1.5,.9,.75],[1.0],
[4.15,4.0,3.8,3.7,3.65,3.6,3.55,3.5,3.45,3.4,.5,.4,.3],
[3.0,2.8,2.6,2.5,2.3,2.2,2.1,2.0,1.9,1.8,1.7,1.6,1.5,1.4,1.3,1.2,1.1,1.0,.9,.85,.8,.7,.6,.5,.4,.35,.3],
[2.1,1.8,1.4,1.3,1.2,1.1,1.05,.9,.75,.6],[2.7,1.4,1.3,1.15,1.0,.9,.7,.6,.55,.5,.45,.4],[4.25,4.1,4.0,3.9,3.85,3.8,3.75,3.7,3.6,1.2,1.1,1.0,.9],
[2.75,2.55,2.3,2.2,.25,.2],[],[2.95,1.9,1.4,1.3,1.2,.85,.55,.5,.25],[],[2.25,1.7,1.55,1.45,1.3,1.2,1.0,.9,.8,.7]]

# VWF
vwf_top = [1.6,1.15,1.1,1.5,2.95,1.8,0,1.4,4.25,.55,1.78,0,.7,0,1.3,1.75,2.75,.55,0]
vwf_foot = [0,0,0,0,0,0,0,0,.38,0,0,0,0,0,0,0,0,0,0]
vwf_bands = [[],[],[],[],[],[],[],[],[(.6,3.5,.32)],[],[],[],[],[],[],[],[],[],[]]
vwf_pts = [[1.6,1.5,1.45,.95,.9,.85,.75],[1.15,1.0,.85,.65,.6,.5,.45],[1.1,.7,.5,.45,.35],[1.5,1.2,.9,.65,.6,.55,.5,.45,.4,.35,.3,.25,.2,.15],
[2.95,2.93,1.15,1.0,.85,.75,.45],[1.8,1.25,1.15,1.05,.95,.85,.7,.6],[],[1.4,.8,.7,.55,.5,.4],[4.25,4.2,4.1,3.95,3.85,3.75,3.65,3.6,.55,.5,.4,.35,.3,.25],[.55],
[1.78,1.6,1.25,.9,.7,.4,.3,.25,.2,.1],[],[.7],[],[1.3,.45],[1.75,1.2,.85,.8,.45,.4],[2.75],[.55,.4,.1],[]]

# ACTA2
acta2_top = [3.0,2.7,1.8,1.5,1.45,1.95,2.1,4.05,3.2,1.95,4.2,3.0,1.75,2.0,2.05,5.6,.7,.75,0]
acta2_foot = [0]*19
acta2_bands = [[],[],[(.35,.85,.3)],[(.05,.75,.33)],[],[(.6,1.4,.35)],[],[(.35,1.3,.4)],[],[],[],[],[],[],[],[(1.5,5.0,.4)],[],[],[]]
acta2_pts = [[3.0,2.15,1.75,1.55,1.45,1.35,1.25,1.2,1.15,1.1,1.05,1.0,.95,.9,.85,.8,.7,.6,.5,.4,.3,.15,1.02,.92,.82,1.12,1.22,.72],
[2.7,1.4,1.3,1.2,1.05,.95,.85,.75,.7,.65,.6,.55,.5,.45,.4,.35,.3,.25,.1,.62,.72,.52],[1.8,1.65,1.5,1.35,1.2,1.1,1.0,.9,.3],[1.5,1.4,1.2,1.0,.85],
[1.45,1.3,1.2,1.1,1.0,.95,.9,.85,.8,.7,.6,.5,.45,.35,.3,.2,.1,.82,.92,.72,.62],[1.95,1.85,1.7,1.6,1.5,.55,.45,.4],[2.1],
[4.05,3.6,3.3,2.8,2.7,2.2,2.1,2.0,1.9,1.8,1.7,1.6,1.5,.3,.2,.15,1.52,1.42,.32,.42],
[3.2,3.1,2.7,2.6,2.5,2.4,2.2,2.0,1.7,1.5,1.3,1.2,1.0,.9,.8,.7,.6,.5,.4,.3,.25,.2],[1.95,1.5,.9,.7,.3,.2,.15],
[4.2,3.1,3.0,2.4,2.1,1.9,1.4,.6,.4,.3,.25,.2,.15,.1],[3.0,2.3,1.9,1.55,1.5,1.4,1.3,1.25,1.2,1.15,1.1,1.05,.95,.85,.6,.4],[1.75,.7,.6,.45,.35,.3],[2.0],
[2.05,.85,.75,.7,.6,.55,.5,.45,.4,.35,.3,.25,.2,.15],[5.6,5.5,5.35,5.3,5.15,5.05,1.4,1.3,1.2,1.1,1.0,.9,.8,.7,.6,.5,.4,.2],[.7,.55,.45,.35],
[.75,.65,.55,.5,.45,.4,.35,.3,.25,.2,.1],[]]

# HBB
hbb_top = [5.65,7.5,5.7,5.7,6.25,4.2,7.35,4.6,3.5,6.3,8.6,6.5,6.2,7.6,7.9,3.25,8.8,0,0]
hbb_bottom = {16: 2.65}
hbb_foot = [0,0,0,.25,0,0,.3,0,0,.5,0,.45,.45,.4,.45,0,0,0,0]
hbb_footw = [.45,.45,.45,.45,.45,.45,.2,.45,.45,.25,.45,.45,.45,.25,.45,.45,.45,.45,.45]
hbb_nozero = [16]
hbb_bands = [[(.6,2.7,.45)],[(.45,2.3,.45)],[(.6,2.2,.4)],[(.4,2.4,.47)],[(.55,2.3,.42)],[],[(1.3,4.4,.47)],[],[],[(.85,4.6,.47)],
             [(5.3,8.55,.47),(.9,3.3,.42),(3.3,5.3,.25)],[(.9,3.6,.47)],[(.6,3.6,.47)],[(1.4,4.2,.47)],[(.6,3.0,.47)],[],[(7.3,8.8,.47)],[],[]]
hbb_shapes = {18: ([0,.3,.6,1,1.5,2,2.5,3,4,6.4], [.03,.05,.15,.38,.45,.35,.15,.06,.03,.02])}
hbb_pts = [[5.65,5.0,4.95,4.8,4.5,4.4,4.2,4.1,4.0,3.9,3.8,3.5,3.3,3.0,2.9,.3],[7.5,7.45,6.2,4.4,4.25,3.4,3.2,2.9,2.7,2.5],
[5.7,4.6,4.55,4.3,4.25,3.9,3.75,3.0,2.9,2.7,2.5],[5.7,5.3,5.2,4.9,4.6,2.85,2.7,2.6,.2],[6.25,5.4,4.5,4.4,4.0,3.75,3.55,3.3,3.2,2.9,2.7,2.5],[4.2,1.8,.8,.8],
[7.35,6.9,6.6,6.05,5.25,5.2,4.9,4.8,4.7,4.6,4.5,1.25,1.15,1.1,.9],[4.6,4.0,3.75,3.4,2.95,2.55,2.5,2.2,2.1,2.0,1.95,1.85,1.8,.55],
[3.5,3.4,3.3,3.05,3.0,2.6,2.1,1.9,1.85,1.5,1.4,1.1,1.0,.7],[6.3,5.2,5.0,4.9,.8,.75,.6,.5,.4],
[5.6,5.4,5.2,5.0,4.9,4.7,4.5,4.3,4.1,3.9,3.7,3.5,.8,.7,.6,.4],[6.5,5.6,4.9,4.8,4.6,4.5,4.3,4.2,4.0,.8,.7,.5],
[6.2,6.15,6.0,5.9,5.6,5.5,5.4,5.3,5.2,5.1,5.0,4.9,4.8,4.7,4.6,4.4,4.2,4.0,3.8,.5,.4,.3],[7.6,5.6,5.3,5.0,4.8,4.7,4.5,4.4,1.3,1.2],
[7.9,7.85,7.1,6.6,6.2,6.1,6.0,5.0,4.3,3.8,3.5,3.4,3.2,.5,.4],[3.25,2.8,2.6,2.5,2.3,2.1,2.0,1.9,1.8,1.6,1.5,1.4,1.2,1.0,1.0],
[7.2,7.0,6.8,6.6,6.4,6.2,6.1,6.0,5.9,5.8,5.7,5.6,5.5,5.0,2.7],[],
[4.9,4.3,4.25,4.0,3.5,2.5,2.3,2.2,2.0,1.9,1.8,1.7,1.6,1.5,1.4,1.3,1.2,1.1,1.0,.9,.8,.6,0]]

narrow = [.45]*19
# gene, data, y ticks, then pixel layout: left, right, top, bottom, x of cluster 0, cluster step, y of 0, px per unit, title x, y label x, title y, identity y
violins = [
 ('ACAN', acan_top, acan_foot, acan_footw, acan_bands, acan_pts, acan_shapes, acan_nozero, {}, [0,2,4,6], (201,829,1682,2294,220,32.67,2266,97,514,132,1684,2395)),
 ('COL2A1', col2a1_top, col2a1_foot, col2a1_footw, col2a1_bands, col2a1_pts, col2a1_shapes, col2a1_nozero, {}, [0,2,4,6], (948,1577,1682,2294,967,32.7,2265.5,75.9,1259,880,1684,2395)),
 ('SOX9', sox9_top, sox9_foot, sox9_footw, sox9_bands, sox9_pts, sox9_shapes, sox9_nozero, {}, [0,1,2,3,4], (1696,2325,1682,2294,1716,32.7,2265.5,132.6,2009,1627,1684,2395)),
 ('CD3E', cd3e_top, cd3e_foot, narrow, cd3e_bands, cd3e_pts, {}, [], {}, [0,1,2,3], (129,605,2505,2798,144,24.7,2785.5,84,366,56,2475,2898)),
 ('CD79A', cd79a_top, cd79a_foot, narrow, cd79a_bands, cd79a_pts, {}, [], {}, [0,1,2,3], (736,1210,2505,2798,749,24.77,2785.5,73.8,972,659,2475,2898)),
 ('CD300E', cd300e_top, cd300e_foot, narrow, cd300e_bands, cd300e_pts, {}, [], {}, [0,1,2], (1340,1816,2505,2798,1354,24.8,2785.5,100.5,1577,1267,2475,2898)),
 ('C1QA', c1qa_top, c1qa_foot, narrow, c1qa_bands, c1qa_pts, {}, [], {}, [0,1,2,3,4,5], (1977,2452,2505,2798,1991,24.77,2785.5,55.3,2213,1874,2475,2898)),
 ('CSF3R', csf3r_top, csf3r_foot, narrow, csf3r_bands, csf3r_pts, csf3r_shapes, [], {}, [0,1,2,3,4], (129,606,3028,3324,144,24.7,3311,63.2,366,56,2999,3432)),
 ('VWF', vwf_top, vwf_foot, narrow, vwf_bands, vwf_pts, {}, [], {}, [0,1,2,3,4], (736,1210,3028,3324,750,24.7,3311,62.9,974,663,2999,3432)),
 ('ACTA2', acta2_top, acta2_foot, narrow, acta2_bands, acta2_pts, {}, [], {}, [0,2,4], (1340,1816,3028,3324,1354,24.72,3311,48,1579,1268,2999,3432)),
 ('HBB', hbb_top, hbb_foot, hbb_footw, hbb_bands, hbb_pts, hbb_shapes, hbb_nozero, hbb_bottom, [0,2.5,5,7.5], (1977,2452,3028,3324,1990,24.72,3309,30.3,2213,1872,2998,3432)),
]

fig = plt.figure(figsize=(W/100, H/100), dpi=100)


def px_axes(left, right, top, bottom):
    return fig.add_axes([left/W, 1-bottom/H, (right-left)/W, (bottom-top)/H])


def style_axes(ax, tick_font, xtick_font, dx, pad):
    for s in ['top', 'right']:
        ax.spines[s].set_visible(False)
    for s in ['left', 'bottom']:
        ax.spines[s].set_linewidth(3.2)
    ax.tick_params(width=3.2, length=7.5, labelsize=tick_font, pad=5)
    ax.tick_params(axis='x', pad=pad, labelsize=xtick_font)
    ax.set_xticks(range(19))
    ax.set_xticklabels(clusters, rotation=45, ha='right', va='center', rotation_mode='anchor')
    shift = ScaledTranslation(dx/100, 0, fig.dpi_scale_trans)
    for lab in ax.get_xticklabels():
        lab.set_transform(lab.get_transform() + shift)


# overlay in pixel coordinates for free text
ov = fig.add_axes([0, 0, 1, 1], zorder=10)
ov.set_xlim(0, W)
ov.set_ylim(H, 0)
ov.axis('off')

for lab, y in [('A', 51), ('B', 1649), ('C', 2435)]:
    ov.text(2, y, lab, fontsize=41, fontweight='bold', color='#231815', va='baseline', ha='left')

# panel A dots
ax = px_axes(306, 1980, 62.5, 1476)
ax.set_xlim((306-358)/87.05, (1980-358)/87.05)
ax.set_ylim(-0.6, (1466-62.5)/16.77)
pct = np.array(pct_rows, dtype=float)
avg = np.array(avg_rows, dtype=float)/10
yy, xx = np.mgrid[0:len(genes), 0:len(clusters)]
vmin, vmax = cmap_vals[0], cmap_vals[-1]
stops = [(v-vmin)/(vmax-vmin) for v in cmap_vals]
cmap = LinearSegmentedColormap.from_list('avgexp', list(zip(stops, cmap_cols)))


def dot_size(p):
    return ((5.6+0.16*np.asarray(p, dtype=float))*0.72)**2


ax.scatter(xx.ravel(), len(genes)-1-yy.ravel(), s=dot_size(pct.ravel()), c=avg.ravel(),
           cmap=cmap, vmin=vmin, vmax=vmax, linewidths=0)
style_axes(ax, 25, 28, 13, 17)
ax.set_yticks(range(len(genes)))
ax.set_yticklabels(genes[::-1], fontsize=14.8)
ax.tick_params(axis='y', pad=6.5)
ov.text(1142, 1593, 'Identity', fontsize=36, ha='center', va='baseline')
ov.text(127, 760, 'Features', fontsize=36, rotation=90, ha='center', va='center')

# legends
ov.text(2028, 450, 'Percent Expressed', fontsize=30, va='baseline')
ov.text(2027, 834, 'Average Expression', fontsize=30, va='baseline')
leg_y = [509, 563, 616, 669, 723]
ov.scatter([2053]*5, leg_y, s=dot_size(pct_levels), c='black', linewidths=0)
for p, y in zip(pct_levels, leg_y):
    ov.text(2104, y, str(p), fontsize=25, va='center')

cb = px_axes(2026, 2079, 864, 1130)
grad = np.linspace(vmax, vmin, 256).reshape(-1, 1)
cb.imshow(grad, aspect='auto', cmap=cmap, vmin=vmin, vmax=vmax, extent=[0, 1, vmin, vmax])
cb.axis('off')
for t in avg_ticks:
    cb.plot([0, .2], [t, t], color='white', lw=1)
    cb.plot([.8, 1], [t, t], color='white', lw=1)
    ov.text(2104, 1064-78.5*t, str(t), fontsize=25, va='center')
cb.set_xlim(0, 1)
cb.set_ylim(vmin, vmax)


# panels B and C
def draw_violin(ax, k, top, foot, footw, bands, pts, shapes, nozero, bottom, step):
    col = violin_cols[k]
    edge = '#3a3a3a'
    if k in shapes:
        ys, ws = shapes[k]
        ws = np.array(ws)
        ax.fill_betweenx(ys, k-ws, k+ws, facecolor=col, edgecolor=edge, lw=3, zorder=2)
    elif top[k] > 0:
        ax.plot([k, k], [bottom.get(k, 0), top[k]], color=edge, lw=3, solid_capstyle='butt', zorder=2)
    if foot[k] > 0:
        ys = np.array([0, .25, .6, 1])*foot[k]
        ws = np.array([1, .92, .45, .1])*footw[k]
        ax.fill_betweenx(ys, k-ws, k+ws, facecolor=col, edgecolor=edge, lw=3, zorder=2)
    for lo, hi, w in bands[k]:
        # overplotted points read as a solid mass with a rough, tapered edge
        w = min(w + 1/step, .48)
        frac = np.array([0, .07, .18, .82, .93, 1])
        prof = np.array([.3, .8, 1, 1, .8, .3])*w
        blob = ax.fill_betweenx(lo+frac*(hi-lo), k-prof, k+prof, color='black', lw=0, zorder=3)
        blob.set_sketch_params(scale=2.5, length=10, randomness=8)
    if k not in nozero:
        ax.plot([k-.42, k+.42], [0, 0], color='black', lw=4.6, solid_capstyle='round', zorder=3)
    y = np.array(pts[k], dtype=float)
    if len(y):
        # spread points across the violin width, like a jitter
        off = ((np.arange(len(y))*0.618034) % 1 - .5)*.88
        if (y == 0).any():
            off[y == 0] = np.linspace(-.4, .4, (y == 0).sum()+2)[1:-1]
        ax.scatter(k+off, y, s=24, color='black', linewidths=0, zorder=4)


for name, top, foot, footw, bands, pts, shapes, nozero, bottom, yticks, lay in violins:
    left, right, t, b, x0, step, y0, unit, tx, lx, ty, iy = lay
    ax = px_axes(left, right, t, b)
    ax.set_xlim((left-x0)/step, (right-x0)/step)
    ax.set_ylim((y0-b)/unit, (y0-t)/unit)
    big = step > 30
    for k in range(19):
        draw_violin(ax, k, top, foot, footw, bands, pts, shapes, nozero, bottom, step)
    style_axes(ax, 25.5 if big else 27, 27 if big else 29, 12 if big else 11, 13)
    ax.set_yticks(yticks)
    ax.set_yticklabels(['%.1f' % v if name == 'HBB' else str(v) for v in yticks])
    ov.text(tx, ty, name, fontsize=30 if big else 33, fontweight='bold', ha='center', va='baseline')
    ov.text(lx, (t+b)/2-8 if big else (t+b)/2, 'Expression Level', fontsize=29, rotation=90, ha='center', va='center')
    ov.text(tx+4 if big else tx, iy, 'Identity', fontsize=29, ha='center', va='baseline')

fig.savefig('out.png', dpi=100, facecolor='white')
